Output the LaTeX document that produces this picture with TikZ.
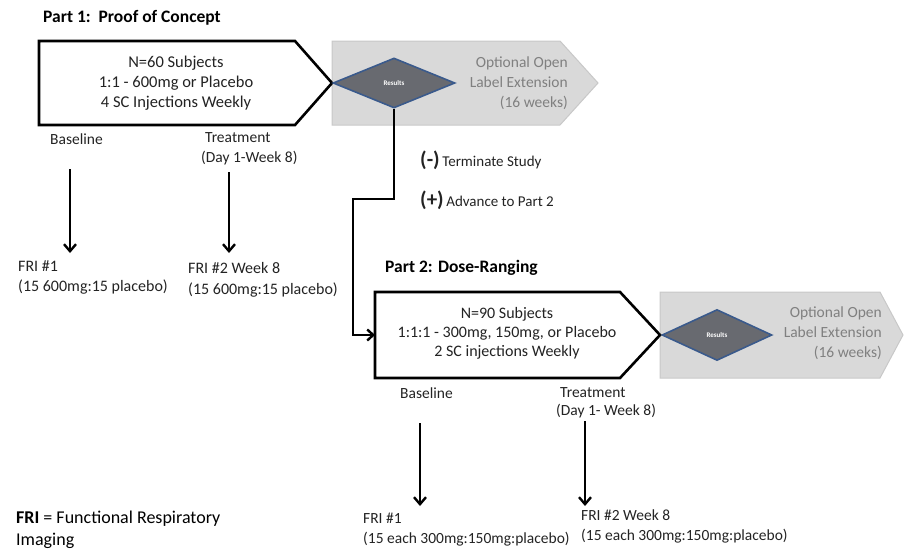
\documentclass[tikz,border=0pt]{standalone}
\usepackage{fontspec}
\setmainfont{Carlito}
\usetikzlibrary{shapes.geometric,arrows.meta}
\definecolor{grayfill}{RGB}{217,217,217}
\definecolor{grayline}{RGB}{200,200,200}
\definecolor{grayt}{RGB}{128,128,128}
\definecolor{diafill}{RGB}{104,106,112}
\definecolor{diaedge}{RGB}{58,90,140}
\definecolor{txt}{RGB}{35,35,35}
\tikzset{
  pentbox/.style={draw=black,line width=2.6pt,fill=white,line join=miter},
  greyarrow/.style={draw=grayline,line width=1pt,fill=grayfill},
  resultdia/.style={diamond,draw=diaedge,line width=1.6pt,fill=diafill,inner sep=0pt,
     text=white,font=\fontsize{7}{8}\selectfont\bfseries},
  maintxt/.style={text=txt,align=center,font=\fontsize{16.5}{20}\selectfont,inner sep=0pt},
  greytxt/.style={text=grayt,align=right,font=\fontsize{15.5}{20}\selectfont,inner sep=0pt},
  lbl/.style={text=txt,anchor=west,inner sep=0pt,font=\fontsize{15.5}{18}\selectfont},
  frilbl/.style={text=txt,anchor=west,inner sep=0pt,font=\fontsize{16}{18}\selectfont},
  title/.style={text=black,anchor=west,inner sep=0pt,font=\fontsize{17.5}{20}\selectfont\bfseries},
  downarrow/.style={draw=black,line width=2.4pt,-{Straight Barb[length=7pt,width=12pt,line width=2.4pt]}},
  conn/.style={draw=black,line width=2.6pt,line join=miter,-{Straight Barb[length=6pt,width=11pt,line width=2.4pt]}}
}
\begin{document}
\begin{tikzpicture}[x=1pt,y=-1pt]
\useasboundingbox (0,0) rectangle (905,554);

% ---------- Part 1 ----------
\node[title] (t1) at (43,18) {Part 1:\ \ Proof of Concept};
\draw[greyarrow] (332,41) -- (560,41) -- (598,83) -- (560,125) -- (332,125) -- cycle;
\draw[pentbox] (39,41) -- (295,41) -- (332,83) -- (295,125) -- (39,125) -- cycle;
\node[maintxt] (n1) at (176,83) {N=60 Subjects\\1:1 - 600mg or Placebo\\4 SC Injections Weekly};
\node[resultdia,minimum width=122pt,minimum height=50pt] (d1) at (394,83) {Results};
\node[greytxt,anchor=east] (o1) at (568,83) {Optional Open\\Label Extension\\(16 weeks)};

\node[lbl] (b1) at (50,139) {Baseline};
\node[lbl] (tr1) at (205,138) {Treatment};
\node[lbl] (dw1) at (201,158) {(Day 1-Week 8)};

\coordinate (a1s) at (70,169);
\coordinate (a1e) at (70,253);
\coordinate (a2s) at (229,172);
\coordinate (a2e) at (229,253);
\draw[downarrow] (a1s) -- (a1e);
\draw[downarrow] (a2s) -- (a2e);

\node[frilbl] (f1a) at (18,266) {FRI \#1};
\node[frilbl] (f1b) at (18,287) {(15 600mg:15 placebo)};
\node[frilbl] (f2a) at (188,268) {FRI \#2 Week 8};
\node[frilbl] (f2b) at (188,290) {(15 600mg:15 placebo)};

% ---------- decision ----------
\node[lbl] (term) at (420,160) {{\fontsize{21}{21}\selectfont\bfseries(-)}\,{\fontsize{15}{17}\selectfont Terminate Study}};
\node[lbl] (adv) at (420,200) {{\fontsize{21}{21}\selectfont\bfseries(+)}\,{\fontsize{15}{17}\selectfont Advance to Part 2}};

% ---------- Part 2 ----------
\node[title] (t2) at (385,268) {Part 2: Dose-Ranging};
\draw[greyarrow] (660,292) -- (880,292) -- (903,335) -- (880,378) -- (660,378) -- cycle;
\draw[pentbox] (375,292) -- (620,292) -- (660,335) -- (620,378) -- (375,378) -- cycle;
\node[maintxt,font=\fontsize{16}{19}\selectfont] (n2) at (507,333) {N=90 Subjects\\1:1:1 - 300mg, 150mg, or Placebo\\2 SC injections Weekly};
\node[resultdia,minimum width=110pt,minimum height=51pt] (d2) at (717,335) {Results};
\node[greytxt,anchor=east] (o2) at (882,333) {Optional Open\\Label Extension\\(16 weeks)};

\coordinate (j1) at (353,199);
\coordinate (p2w) at (375,335);
\draw[conn] (d1.south) |- (j1) |- (p2w);

\node[lbl] (b2) at (400,393) {Baseline};
\node[lbl] (tr2) at (560,393) {Treatment};
\node[lbl] (dw2) at (556,411) {(Day 1- Week 8)};

\coordinate (a3s) at (420,423);
\coordinate (a3e) at (420,506);
\coordinate (a4s) at (585,421);
\coordinate (a4e) at (585,506);
\draw[downarrow] (a3s) -- (a3e);
\draw[downarrow] (a4s) -- (a4e);

\node[frilbl,font=\fontsize{15.5}{18}\selectfont] (f3a) at (363,518) {FRI \#1};
\node[frilbl,font=\fontsize{15.5}{18}\selectfont] (f3b) at (363,539) {(15 each 300mg:150mg:placebo)};
\node[frilbl,font=\fontsize{15.5}{18}\selectfont] (f4a) at (581,515) {FRI \#2 Week 8};
\node[frilbl,font=\fontsize{15.5}{18}\selectfont] (f4b) at (581,536) {(15 each 300mg:150mg:placebo)};

% ---------- legend ----------
\node[lbl,text=black,font=\fontsize{18}{20}\selectfont] (leg1) at (16,519) {\textbf{FRI} = Functional Respiratory};
\node[lbl,text=black,font=\fontsize{18}{20}\selectfont] (leg2) at (16,541) {Imaging};
\end{tikzpicture}
\end{document}
